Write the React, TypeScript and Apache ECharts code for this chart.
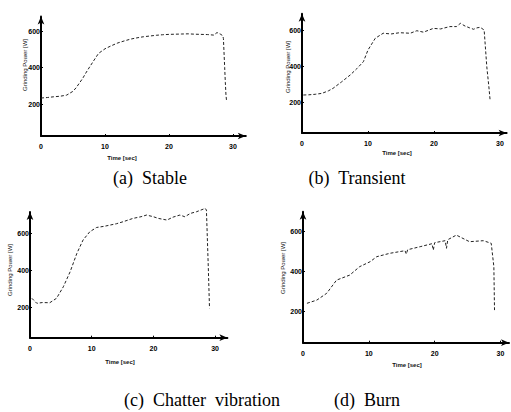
import React, { useEffect, useRef } from "react";
import * as echarts from "echarts";

// (a) Stable
const timeA = [0, 1, 2, 3, 4, 5, 5.5, 6, 6.5, 7, 7.5, 8, 8.5, 9, 10, 11, 12, 13, 14, 15, 16, 17, 18, 19, 20, 21, 22, 23, 24, 25, 26, 27, 27.5, 28, 28.4, 28.5, 28.6, 28.7, 28.8, 28.9, 29.0];
const powerA = [233, 236, 240, 243, 249, 270, 290, 315, 340, 370, 398, 425, 452, 478, 503, 520, 535, 546, 556, 563, 569, 573, 577, 580, 582, 583, 584, 585, 583, 582, 581, 578, 592, 584, 575, 560, 480, 400, 320, 250, 215];

// (b) Transient
const timeB = [0.2, 1, 2, 3, 4, 4.7, 6, 7.3, 8.3, 9.3, 10.0, 11.1, 12.3, 13.5, 14.8, 16.4, 17.4, 18.4, 19.9, 21, 22.4, 23.4, 24.0, 24.7, 25.4, 26.0, 26.5, 27.0, 27.6, 28.0, 28.3, 28.5];
const powerB = [239, 240, 243, 248, 262, 276, 312, 350, 385, 424, 489, 554, 582, 578, 585, 582, 596, 588, 609, 606, 619, 619, 637, 622, 612, 604, 612, 615, 600, 396, 290, 211];

// (c) Chatter vibration
const timeC = [0.3, 1.1, 2, 3.2, 4.3, 5.4, 6.5, 7.6, 8.6, 9.7, 10.8, 12, 13.0, 14, 15.1, 16.7, 18, 18.9, 20.0, 20.8, 22.2, 23.2, 24.3, 25.1, 26, 27.0, 28.4, 28.6, 28.9, 29.1];
const powerC = [249, 222, 226, 225, 249, 311, 392, 492, 564, 609, 632, 638, 645, 652, 663, 681, 690, 699, 690, 681, 672, 688, 699, 690, 708, 717, 735, 726, 420, 195];

// (d) Burn
const timeD = [0.6, 2.1, 3.6, 5.1, 7.1, 8.6, 10.2, 11.2, 13.2, 15.5, 15.7, 15.9, 17.8, 19.6, 19.8, 20.0, 21.6, 21.8, 22.0, 23.3, 25.3, 27.4, 28.6, 29.0, 29.1];
const powerD = [242, 258, 292, 358, 383, 425, 450, 475, 492, 505, 488, 510, 525, 540, 508, 545, 555, 517, 560, 583, 550, 555, 542, 425, 208];

const xTicks = [0, 10, 20, 30];
const yTicks = [200, 400, 600];

const captions = ["(a)  Stable", "(b)  Transient", "(c)  Chatter  vibration", "(d)  Burn"];
const xName = "Time [sec]";
const yName = "Grinding Power [W]";

const series = [
  { t: timeA, p: powerA },
  { t: timeB, p: powerB },
  { t: timeC, p: powerC },
  { t: timeD, p: powerD },
];

// layout (pixel positions)
const layout = [
  { left: 41, top: 16.5, width: 204.8, height: 119.5, yMin: 25, yMax: 680, xMax: 32 },
  { left: 302, top: 13.8, width: 204.6, height: 119.2, yMin: 28, yMax: 690, xMax: 31 },
  { left: 30, top: 212.1, width: 197.4, height: 125.6, yMin: 36, yMax: 715, xMax: 32 },
  { left: 303, top: 211.7, width: 206, height: 131, yMin: 45, yMax: 700, xMax: 31.3 },
];

const captionPos = [
  { x: 150, y: 178 },
  { x: 357, y: 178 },
  { x: 202, y: 400 },
  { x: 367, y: 400 },
];
const xNamePos = [
  { x: 122, y: 158 },
  { x: 397, y: 153 },
  { x: 120, y: 362 },
  { x: 407, y: 365 },
];
const yNamePos = [
  { x: 25, y: 65 },
  { x: 288, y: 67 },
  { x: 10, y: 270 },
  { x: 283, y: 268 },
];

const SERIF = "'Liberation Serif', 'Times New Roman', serif";

export default function App() {
  const ref = useRef<HTMLDivElement>(null);
  useEffect(() => {
    if (!ref.current) return;
    const chart = echarts.init(ref.current, null, { renderer: "svg" });
    const axisLine = {
      show: true,
      onZero: false,
      symbol: ["none", "arrow"],
      symbolSize: [5, 8],
      lineStyle: { color: "#000", width: 2 },
    };
    const labelStyle = {
      color: "#000",
      fontSize: 7,
      fontWeight: "bold" as const,
      fontFamily: "Liberation Sans",
    };
    const graphics: any[] = [];
    captions.forEach((c, i) => {
      graphics.push({
        type: "text",
        x: captionPos[i].x,
        y: captionPos[i].y,
        style: {
          text: c,
          fill: "#000",
          fontSize: 18,
          fontFamily: SERIF,
          align: "center",
          verticalAlign: "middle",
        },
      });
      graphics.push({
        type: "text",
        x: xNamePos[i].x,
        y: xNamePos[i].y,
        style: {
          text: xName,
          fill: "#111",
          fontSize: 6,
          fontWeight: "bold",
          fontFamily: "Liberation Sans",
          align: "center",
          verticalAlign: "middle",
        },
      });
      graphics.push({
        type: "text",
        x: yNamePos[i].x,
        y: yNamePos[i].y,
        rotation: Math.PI / 2,
        style: {
          text: yName,
          fill: "#111",
          fontSize: 6,
          fontFamily: "Liberation Sans",
          align: "center",
          verticalAlign: "middle",
        },
      });
    });

    chart.setOption({
      animation: false,
      backgroundColor: "#fff",
      grid: layout.map((l) => ({
        left: l.left,
        top: l.top,
        width: l.width,
        height: l.height,
        containLabel: false,
      })),
      xAxis: layout.map((l, i) => ({
        type: "value",
        gridIndex: i,
        min: 0,
        max: l.xMax,
        splitLine: { show: false },
        axisLine,
        axisTick: { show: true, inside: true, length: 2, customValues: xTicks, lineStyle: { color: "#000" } },
        axisLabel: { ...labelStyle, margin: 7, customValues: xTicks },
      })),
      yAxis: layout.map((l, i) => ({
        type: "value",
        gridIndex: i,
        min: l.yMin,
        max: l.yMax,
        splitLine: { show: false },
        axisLine,
        axisTick: { show: true, inside: true, length: 2, customValues: yTicks, lineStyle: { color: "#000" } },
        axisLabel: { ...labelStyle, margin: 1, customValues: yTicks },
      })),
      series: series.map((s, i) => ({
        type: "line",
        xAxisIndex: i,
        yAxisIndex: i,
        data: s.t.map((t, j) => [t, s.p[j]]),
        showSymbol: false,
        clip: false,
        lineStyle: { color: "#222", width: 1, type: [3, 2] },
      })),
      graphic: graphics,
    });
    return () => chart.dispose();
  }, []);
  return <div ref={ref} style={{ width: 511, height: 412, position: "absolute", left: 0, top: 0 }} />;
}
